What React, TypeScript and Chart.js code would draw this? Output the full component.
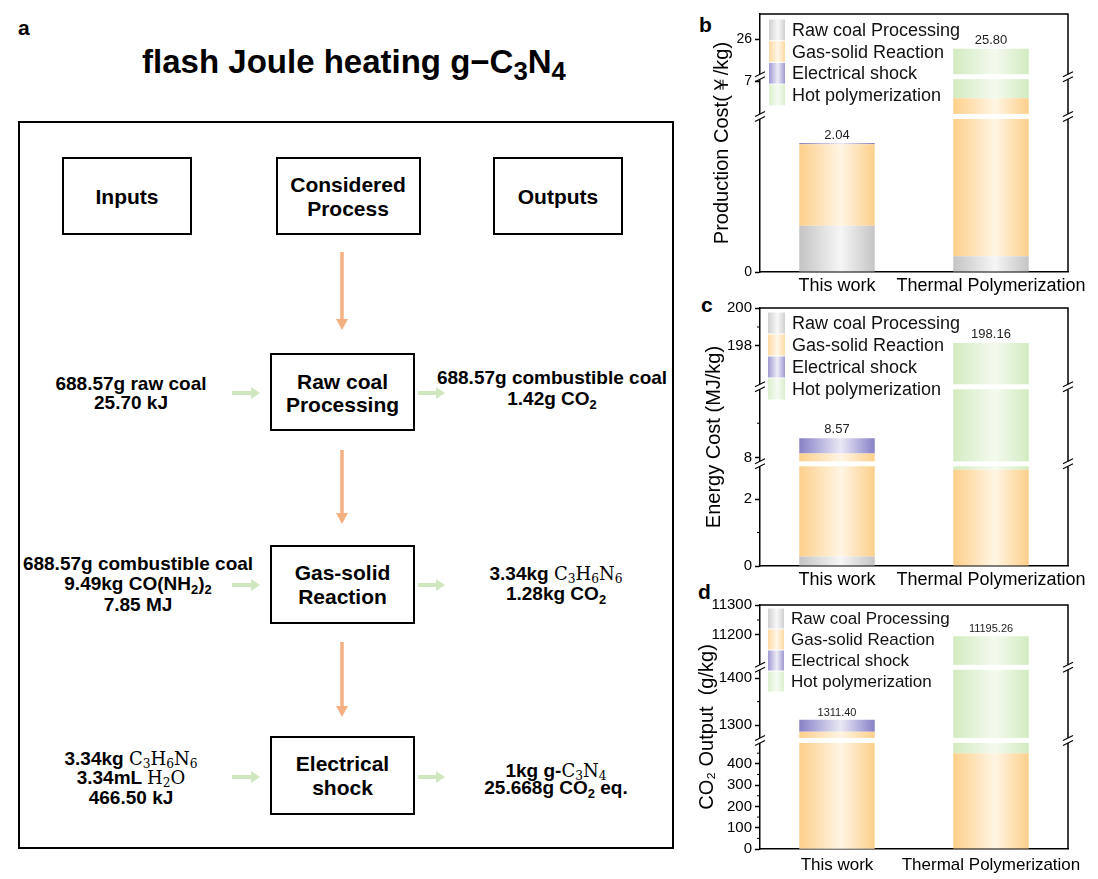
import React, { useEffect, useRef } from 'react';
import { Chart, BarController, BarElement, CategoryScale, LinearScale } from 'chart.js';

Chart.register(BarController, BarElement, CategoryScale, LinearScale);

const SANS = '"Liberation Sans", Arial, Helvetica, sans-serif';
const SERIF = '"DejaVu Serif", "Liberation Serif", serif';
Chart.defaults.font.family = SANS;

// ---------- data ----------
const categories = ['This work', 'Thermal Polymerization'];
const stageNames = ['Raw coal Processing', 'Gas-solid Reaction', 'Electrical shock', 'Hot polymerization'];

// b: production cost (¥/kg)
const costRaw = [0.73, 0.25];
const costGas = [1.29, 6.36];
const costShock = [0.02, 0];
const costHot = [0, 19.19];
const costTicks = [0, 7, 26];
const costMinorTicks: number[] = [];
const costRanges = [[0, 2.46], [6.2, 7.1], [25.2, 26.55]];

// c: energy cost (MJ/kg)
const energyRaw = [0.28, 0];
const energyGas = [7.85, 2.87];
const energyShock = [0.44, 0];
const energyHot = [0, 195.29];
const energyTicks = [0, 2, 8, 198, 200];
const energyMinorTicks = [1, 9, 199];
const energyRanges = [[0, 3.05], [7.83, 10.05], [195.85, 200]];

// d: CO2 output (g/kg)
const co2Raw = [1.42, 0];
const co2Gas = [1284.31, 450];
const co2Shock = [25.67, 0];
const co2Hot = [0, 10745.26];
const co2Ticks = [0, 100, 200, 300, 400, 1300, 1400, 11200, 11300];
const co2MinorTicks = [50, 150, 250, 350, 450, 1350, 11250];
const co2Ranges = [[0, 510], [1267, 1423.5], [11092, 11300]];

// ---------- styles ----------
const palette = [
  ['#c4c4c4', '#f6f6f6'],
  ['#fdcf8a', '#fff5e4'],
  ['#8781c7', '#e9e8f5'],
  ['#d2ebc0', '#f4faef'],
];
const BAR_FRACTION = 0.49;

function makeBrokenScale(id: string, ranges: number[][], fracs: number[], tickVals: number[]) {
  const toDec = (v: number) => {
    for (let i = 0; i < ranges.length; i++) {
      const [a, b] = ranges[i];
      if (v <= b || i === ranges.length - 1) {
        const c = Math.max(v, a);
        return fracs[i] + ((c - a) / (b - a)) * (fracs[i + 1] - fracs[i]);
      }
    }
    return 1;
  };
  const fromDec = (d: number) => {
    for (let i = 0; i < ranges.length; i++) {
      if (d <= fracs[i + 1] || i === ranges.length - 1) {
        const [a, b] = ranges[i];
        return a + ((d - fracs[i]) / (fracs[i + 1] - fracs[i])) * (b - a);
      }
    }
    return ranges[ranges.length - 1][1];
  };
  class BrokenScale extends LinearScale {
    getPixelForValue(value: number) {
      if (value === null || value === undefined || isNaN(value)) return NaN;
      return (this as any).getPixelForDecimal(toDec(value));
    }
    getValueForPixel(pixel: number) {
      return fromDec((this as any).getDecimalForPixel(pixel));
    }
    buildTicks() {
      return tickVals.map((value) => ({ value })) as any;
    }
  }
  (BrokenScale as any).id = id;
  (BrokenScale as any).defaults = (LinearScale as any).defaults;
  return BrokenScale;
}

function barFill(i: number) {
  return (ctx: any) => {
    const chart = ctx.chart;
    const xs = chart.scales && chart.scales.x;
    if (!chart.chartArea || !xs || ctx.dataIndex === undefined) return palette[i][0];
    const cx = xs.getPixelForValue(ctx.dataIndex);
    const w = (xs.width / categories.length) * BAR_FRACTION;
    const g = chart.ctx.createLinearGradient(cx - w / 2, 0, cx + w / 2, 0);
    g.addColorStop(0, palette[i][0]);
    g.addColorStop(0.55, palette[i][1]);
    g.addColorStop(1, palette[i][0]);
    return g;
  };
}

type PanelCfg = {
  key: string;
  top: number;
  height: number;
  areaTop: number;
  areaBottom: number;
  series: number[][];
  ranges: number[][];
  fracs: number[];
  ticks: number[];
  minor: number[];
  title: string;
  titlePad: number;
  tickFont: number;
  xFont: number;
  xPad: number;
  legendLeft: number;
  legendTop: number;
  legendRow: number;
  legendSwatch: number;
  legendFont: number;
  totalFont: number;
  totalGap: number;
};

const panels: PanelCfg[] = [
  {
    key: 'b', top: 0, height: 302, areaTop: 14, areaBottom: 272,
    series: [costRaw, costGas, costShock, costHot], ranges: costRanges,
    fracs: [0, 0.603, 0.757, 1], ticks: costTicks, minor: costMinorTicks,
    title: 'Production Cost(\uFFE5/kg)', titlePad: 20, tickFont: 14, xFont: 18, xPad: 3,
    legendLeft: 9, legendTop: 5, legendRow: 21.7, legendSwatch: 16, legendFont: 18,
    totalFont: 13, totalGap: 8,
  },
  {
    key: 'c', top: 290, height: 302, areaTop: 18, areaBottom: 276,
    series: [energyRaw, energyGas, energyShock, energyHot], ranges: energyRanges,
    fracs: [0, 0.396, 0.6946, 1], ticks: energyTicks, minor: energyMinorTicks,
    title: 'Energy Cost (MJ/kg)', titlePad: 12, tickFont: 15, xFont: 18, xPad: 3,
    legendLeft: 8, legendTop: 4, legendRow: 22, legendSwatch: 17, legendFont: 18,
    totalFont: 13, totalGap: 9,
  },
  {
    key: 'd', top: 580, height: 299, areaTop: 25, areaBottom: 269,
    series: [co2Raw, co2Gas, co2Shock, co2Hot], ranges: co2Ranges,
    fracs: [0, 0.445, 0.7447, 1], ticks: co2Ticks, minor: co2MinorTicks,
    title: 'CO\u2082 Output  (g/kg)', titlePad: 5, tickFont: 15, xFont: 17, xPad: 6,
    legendLeft: 8, legendTop: 3, legendRow: 21, legendSwatch: 16, legendFont: 17,
    totalFont: 11, totalGap: 7,
  },
];

const CANVAS_LEFT = 690;
const CANVAS_W = 408;
const AXIS_W = 70;
const RIGHT_PAD = 30;

function BarPanel({ cfg }: { cfg: PanelCfg }) {
  const ref = useRef<HTMLCanvasElement>(null);
  useEffect(() => {
    const scaleId = 'broken_' + cfg.key;
    const ScaleCls = makeBrokenScale(scaleId, cfg.ranges, cfg.fracs, cfg.ticks);
    Chart.register(ScaleCls as any);
    const decor = {
      id: 'decor_' + cfg.key,
      beforeDatasetsDraw(chart: any) {
        const { ctx, chartArea: a } = chart;
        ctx.save();
        ctx.strokeStyle = '#000';
        ctx.lineWidth = 1.5;
        ctx.beginPath();
        ctx.moveTo(a.left, a.top);
        ctx.lineTo(a.right, a.top);
        ctx.lineTo(a.right, a.bottom);
        ctx.stroke();
        ctx.restore();
      },
      afterDatasetsDraw(chart: any) {
        const { ctx, chartArea: a } = chart;
        const ys = chart.scales.y;
        const xs = chart.scales.x;
        ctx.save();
        for (let i = 1; i < cfg.fracs.length - 1; i++) {
          const y = ys.getPixelForDecimal(cfg.fracs[i]);
          ctx.fillStyle = '#fff';
          ctx.fillRect(a.left - 7, y - 2.5, a.right - a.left + 14, 5);
          ctx.strokeStyle = '#000';
          ctx.lineWidth = 1.2;
          for (const x of [a.left, a.right]) {
            for (const dy of [-2.5, 2.5]) {
              ctx.beginPath();
              ctx.moveTo(x - 5, y + dy + 2.5);
              ctx.lineTo(x + 5, y + dy - 2.5);
              ctx.stroke();
            }
          }
        }
        ctx.fillStyle = '#222';
        ctx.font = `${cfg.totalFont}px ${SANS}`;
        ctx.textAlign = 'center';
        ctx.textBaseline = 'middle';
        categories.forEach((_, j) => {
          const total = cfg.series.reduce((s, arr) => s + arr[j], 0);
          const y = ys.getPixelForValue(total);
          ctx.fillText(total.toFixed(2), xs.getPixelForValue(j), y - cfg.totalGap);
        });
        ctx.restore();
      },
      afterDraw(chart: any) {
        const { ctx, chartArea: a } = chart;
        const ys = chart.scales.y;
        ctx.save();
        ctx.strokeStyle = '#000';
        ctx.lineWidth = 1;
        cfg.minor.forEach((v) => {
          const y = ys.getPixelForValue(v);
          ctx.beginPath();
          ctx.moveTo(a.left - 3, y);
          ctx.lineTo(a.left, y);
          ctx.stroke();
        });
        stageNames.forEach((name, i) => {
          const x0 = a.left + cfg.legendLeft;
          const y0 = a.top + cfg.legendTop + i * cfg.legendRow;
          const g = ctx.createLinearGradient(x0, 0, x0 + cfg.legendSwatch, 0);
          g.addColorStop(0, palette[i][0]);
          g.addColorStop(0.55, palette[i][1]);
          g.addColorStop(1, palette[i][0]);
          ctx.globalAlpha = 0.8;
          ctx.fillStyle = g;
          ctx.fillRect(x0, y0 + 0.5, cfg.legendSwatch, cfg.legendRow - 1);
          ctx.globalAlpha = 1;
          ctx.fillStyle = '#111';
          ctx.font = `${cfg.legendFont}px ${SANS}`;
          ctx.textAlign = 'left';
          ctx.textBaseline = 'middle';
          ctx.fillText(name, x0 + cfg.legendSwatch + 7, y0 + cfg.legendRow / 2 + 1);
        });
        ctx.restore();
      },
    };
    const last = cfg.ranges[cfg.ranges.length - 1];
    const chart = new Chart(ref.current as HTMLCanvasElement, {
      type: 'bar',
      data: {
        labels: categories,
        datasets: cfg.series.map((data, i) => ({
          label: stageNames[i],
          data,
          stack: 's',
          backgroundColor: barFill(i) as any,
          borderWidth: 0,
          categoryPercentage: 0.5,
          barPercentage: 0.98,
        })),
      },
      options: {
        responsive: false,
        animation: false,
        events: [],
        layout: { padding: { top: cfg.areaTop, right: RIGHT_PAD, left: 0, bottom: 0 } },
        plugins: { legend: { display: false }, tooltip: { enabled: false } } as any,
        scales: {
          x: {
            type: 'category',
            stacked: true,
            grid: { display: false, drawTicks: false },
            border: { display: true, color: '#000', width: 1.5 },
            ticks: { color: '#000', font: { family: SANS, size: cfg.xFont }, padding: cfg.xPad, maxRotation: 0, autoSkip: false },
            afterFit: (s: any) => { s.height = cfg.height - cfg.areaBottom; },
          },
          y: {
            type: scaleId as any,
            stacked: true,
            min: cfg.ranges[0][0],
            max: last[1],
            grid: { display: true, drawOnChartArea: false, drawTicks: true, tickLength: 5, tickWidth: 1.5, tickColor: '#000' },
            border: { display: true, color: '#000', width: 1.5 },
            ticks: { color: '#000', font: { family: SANS, size: cfg.tickFont }, padding: 3, autoSkip: false, callback: (v: any) => String(v) },
            title: { display: true, text: cfg.title, color: '#000', font: { family: SANS, size: 20 }, padding: { top: cfg.titlePad, bottom: 0 } },
            afterFit: (s: any) => { s.width = AXIS_W; },
          } as any,
        },
      },
      plugins: [decor],
    });
    return () => chart.destroy();
  }, []);
  return (
    <canvas
      ref={ref}
      width={CANVAS_W}
      height={cfg.height}
      style={{ position: 'absolute', left: CANVAS_LEFT, top: cfg.top, width: CANVAS_W, height: cfg.height }}
    />
  );
}

// ---------- flowchart helpers ----------
const Line = ({ x, y, size = 19, children }: any) => (
  <div
    style={{
      position: 'absolute', left: x, top: y, transform: 'translate(-50%, -50%)', whiteSpace: 'nowrap',
      fontFamily: SANS, fontWeight: 700, fontSize: size, lineHeight: 1, color: '#000',
    }}
  >
    {children}
  </div>
);
const Sub = ({ children, scale = 0.68 }: any) => (
  <span style={{ fontSize: `${scale}em`, position: 'relative', top: '0.28em' }}>{children}</span>
);
const Chem = ({ children }: any) => (
  <span style={{ fontFamily: SERIF, fontWeight: 400, fontSize: 18 }}>{children}</span>
);
const Box = ({ x0, x1, y0, y1 }: any) => (
  <div
    style={{
      position: 'absolute', left: x0, top: y0, width: x1 - x0, height: y1 - y0,
      border: '2px solid #000', boxSizing: 'border-box',
    }}
  />
);
const Letter = ({ x, y, ch }: any) => (
  <div
    style={{
      position: 'absolute', left: x, top: y, transform: 'translateY(-50%)', fontFamily: SANS,
      fontWeight: 700, fontSize: 21, lineHeight: 1, color: '#000',
    }}
  >
    {ch}
  </div>
);

const ORANGE = '#f4b083';
const GREEN = '#cfe6bf';
const orangeArrows = [[252, 330], [450, 524], [642, 717]];
const greenRows = [393, 585, 777];

export default function App() {
  return (
    <div style={{ position: 'absolute', left: 0, top: 0, width: 1098, height: 879, background: '#fff', overflow: 'hidden' }}>
      <Letter x={18} y={27} ch="a" />
      <Letter x={699} y={24} ch="b" />
      <Letter x={701} y={304} ch="c" />
      <Letter x={698} y={591} ch="d" />

      <Line x={354} y={61} size={33}>
        flash Joule heating g−C<Sub scale={0.78}>3</Sub>N<Sub scale={0.78}>4</Sub>
      </Line>

      <div
        style={{
          position: 'absolute', left: 18, top: 121, width: 656, height: 728,
          border: '2.5px solid #000', boxSizing: 'border-box',
        }}
      />

      <Box x0={62} x1={192} y0={157} y1={235} />
      <Box x0={276} x1={421} y0={157} y1={235} />
      <Box x0={493} x1={623} y0={157} y1={235} />
      <Line x={127} y={196} size={21}>Inputs</Line>
      <Line x={348} y={184} size={21}>Considered</Line>
      <Line x={348} y={208} size={21}>Process</Line>
      <Line x={558} y={196} size={21}>Outputs</Line>

      <Box x0={270} x1={415} y0={353} y1={431} />
      <Box x0={270} x1={415} y0={545} y1={624} />
      <Box x0={270} x1={415} y0={736} y1={815} />
      <Line x={342.5} y={381} size={21}>Raw coal</Line>
      <Line x={342.5} y={404} size={21}>Processing</Line>
      <Line x={342.5} y={572} size={21}>Gas-solid</Line>
      <Line x={342.5} y={596} size={21}>Reaction</Line>
      <Line x={342.5} y={763} size={21}>Electrical</Line>
      <Line x={342.5} y={787} size={21}>shock</Line>

      <svg width={1098} height={879} style={{ position: 'absolute', left: 0, top: 0, pointerEvents: 'none' }}>
        {orangeArrows.map(([y0, y1], i) => (
          <g key={'o' + i}>
            <line x1={342} y1={y0} x2={342} y2={y1 - 9} stroke={ORANGE} strokeWidth={3.5} />
            <polygon points={`${336},${y1 - 11} ${348},${y1 - 11} ${342},${y1}`} fill={ORANGE} />
          </g>
        ))}
        {greenRows.map((y, i) => (
          <g key={'g' + i}>
            {[[232, 260], [418, 445]].map(([x0, x1], k) => (
              <g key={k}>
                <line x1={x0} y1={y} x2={x1 - 7} y2={y} stroke={GREEN} strokeWidth={4} />
                <polygon points={`${x1 - 9},${y - 6} ${x1 - 9},${y + 6} ${x1},${y}`} fill={GREEN} />
              </g>
            ))}
          </g>
        ))}
      </svg>

      <Line x={131} y={383}>688.57g raw coal</Line>
      <Line x={131} y={402}>25.70 kJ</Line>
      <Line x={552} y={377}>688.57g combustible coal</Line>
      <Line x={552} y={398}>1.42g CO<Sub>2</Sub></Line>

      <Line x={138} y={563}>688.57g combustible coal</Line>
      <Line x={138} y={583}>9.49kg CO(NH<Sub>2</Sub>)<Sub>2</Sub></Line>
      <Line x={138} y={604}>7.85 MJ</Line>
      <Line x={556} y={573}>3.34kg <Chem>C<Sub>3</Sub>H<Sub>6</Sub>N<Sub>6</Sub></Chem></Line>
      <Line x={556} y={593}>1.28kg CO<Sub>2</Sub></Line>

      <Line x={131} y={758}>3.34kg <Chem>C<Sub>3</Sub>H<Sub>6</Sub>N<Sub>6</Sub></Chem></Line>
      <Line x={131} y={777}>3.34mL <Chem>H<Sub>2</Sub>O</Chem></Line>
      <Line x={131} y={797}>466.50 kJ</Line>
      <Line x={556} y={770}>1kg g-<Chem>C<Sub>3</Sub>N<Sub>4</Sub></Chem></Line>
      <Line x={556} y={787}>25.668g CO<Sub>2</Sub> eq.</Line>

      {panels.map((p) => (
        <BarPanel key={p.key} cfg={p} />
      ))}
    </div>
  );
}
